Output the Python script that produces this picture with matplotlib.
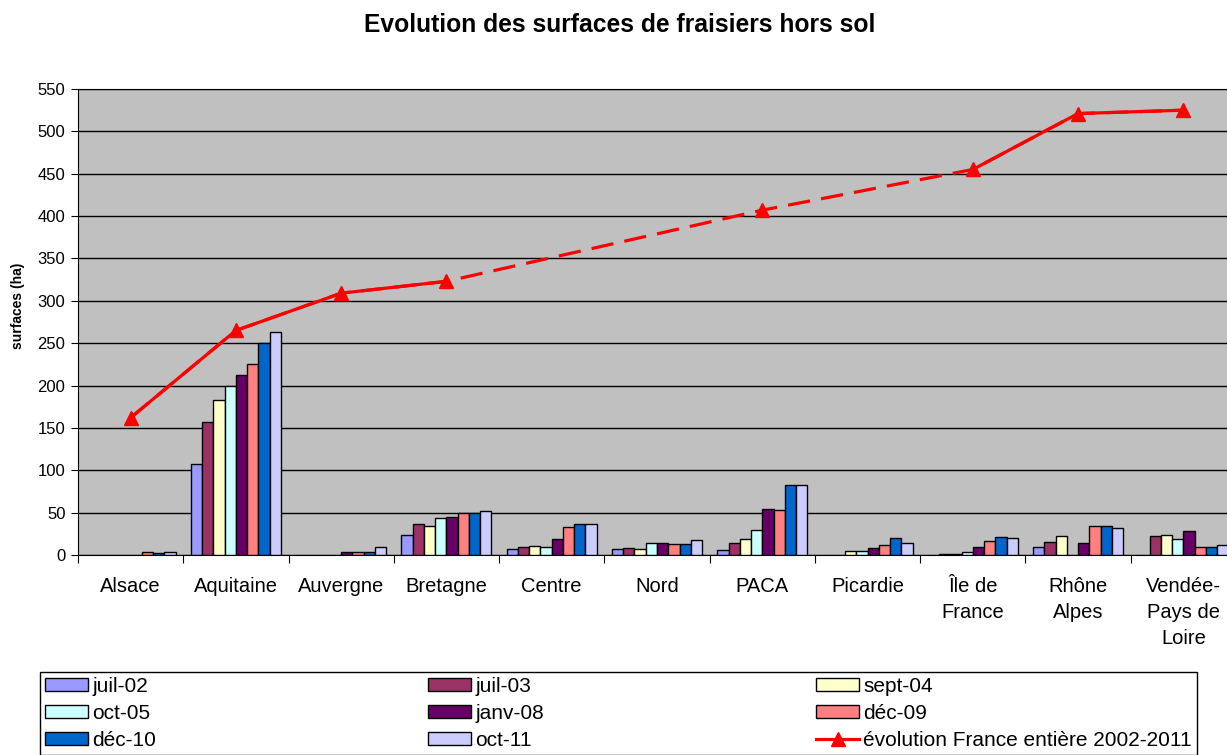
import numpy as np
import matplotlib
matplotlib.use("Agg")
import matplotlib.pyplot as plt
from matplotlib.lines import Line2D

plt.rcParams.update({
    "font.family": ["Liberation Sans", "DejaVu Sans"],
})

# ---- data -----------------------------------------------------------------
nan = np.nan
regions = ["Alsace", "Aquitaine", "Auvergne", "Bretagne", "Centre", "Nord",
           "PACA", "Picardie", "Île de\nFrance", "Rhône\nAlpes",
           "Vendée-\nPays de\nLoire"]
series_names = ["juil-02", "juil-03", "sept-04", "oct-05",
                "janv-08", "déc-09", "déc-10", "oct-11"]
juil_02 = [nan, 107, nan, 24, 7, 7, 6, nan, nan, 9, nan]
juil_03 = [nan, 157, nan, 37, 9, 8, 14, nan, 1, 15, 23]
sept_04 = [nan, 183, nan, 34, 11, 7, 19, 5, 1, 22, 24]
oct_05 = [nan, 199, nan, 44, 10, 14, 29, 5, 3, nan, 19]
janv_08 = [nan, 212, 3, 45, 19, 14, 54, 8, 10, 14, 28]
dec_09 = [3, 225, 4, 49, 33, 13, 53, 12, 17, 34, 10]
dec_10 = [2, 250, 3, 49, 36, 13, 83, 20, 21, 34, 9]
oct_11 = [3, 263, 9, 52, 36, 18, 83, 14, 20, 32, 12]
france = [162, 265, 309, 323, nan, nan, 407, nan, 455, 521, 525]
france_label = "évolution France entière 2002-2011"

colors = ["#9999FF", "#993366", "#FFFFCC", "#CCFFFF",
          "#660066", "#FF8080", "#0066CC", "#CCCCFF"]
RED = "#FF0000"

series = [juil_02, juil_03, sept_04, oct_05, janv_08, dec_09, dec_10, oct_11]

# ---- figure ---------------------------------------------------------------
W, H = 1227, 755
fig = plt.figure(figsize=(W / 100, H / 100), dpi=100)
ax = fig.add_axes([78 / W, 1 - 555 / H, (1236 - 78) / W, 466 / H])
ax.set_facecolor("#C0C0C0")

x = np.arange(len(regions))
group = 0.855
bw = group / len(series)
handles = []
for i, (vals, c, name) in enumerate(zip(series, colors, series_names)):
    pos = x - group / 2 + bw * (i + 0.5)
    b = ax.bar(pos, np.array(vals, dtype=float), width=bw, color=c,
               edgecolor="black", linewidth=1.0, zorder=3, label=name)
    handles.append(b)

# national trend: dashed across gaps, solid where consecutive
fr = np.array(france, dtype=float)
ok = ~np.isnan(fr)
ax.plot(x[ok], fr[ok], color=RED, lw=2.3, ls=(0, (7, 3.5)), zorder=4)
ax.plot(x, fr, color=RED, lw=2.3, zorder=5)
ax.plot(x[ok], fr[ok], ls="none", marker="^", ms=10, color=RED, zorder=6)
line_h = Line2D([], [], color=RED, lw=2.3, marker="^", ms=10)

ax.set_xlim(-0.5, len(regions) - 0.5)
ax.set_ylim(0, 550)
ax.set_yticks(np.arange(0, 551, 50))
ax.grid(axis="y", color="black", lw=1.0, zorder=1)
ax.tick_params(axis="y", labelsize=12, length=5, direction="out", pad=4)

ax.set_xticks(np.arange(-0.5, len(regions), 1.0))
ax.set_xticklabels([])
ax.set_xticks(x, minor=True)
ax.set_xticklabels(regions, minor=True, fontsize=14.5, linespacing=1.45)
ax.tick_params(axis="x", which="major", length=6, direction="out")
ax.tick_params(axis="x", which="minor", length=0, pad=16)

for s in ("top", "left", "bottom"):
    ax.spines[s].set_color("black")
ax.spines["right"].set_color("#808080")

ax.set_ylabel("surfaces (ha)", fontsize=10, fontweight="bold")
ax.yaxis.set_label_coords(-53 / (1236 - 78), 0.535)
fig.text(620 / W, 1 - 25 / H, "Evolution des surfaces de fraisiers hors sol",
         ha="center", va="center", fontsize=17.7, fontweight="bold")

# legend, filled column-wise: reorder so rows read across
order_h = [handles[0], handles[3], handles[6],
           handles[1], handles[4], handles[7],
           handles[2], handles[5], line_h]
order_l = [series_names[0], series_names[3], series_names[6],
           series_names[1], series_names[4], series_names[7],
           series_names[2], series_names[5], france_label]
leg = fig.legend(order_h, order_l, ncol=3, loc="upper left",
                 bbox_to_anchor=(40 / W, 0, 1157 / W, 1 - 672 / H),
                 mode="expand", borderaxespad=0, fontsize=15,
                 handlelength=2.05, handleheight=0.6, handletextpad=0.2,
                 labelspacing=0.38, fancybox=False, edgecolor="black",
                 framealpha=1, borderpad=0.25)
leg.get_frame().set_linewidth(1.0)

fig.savefig("out.png", dpi=100)
